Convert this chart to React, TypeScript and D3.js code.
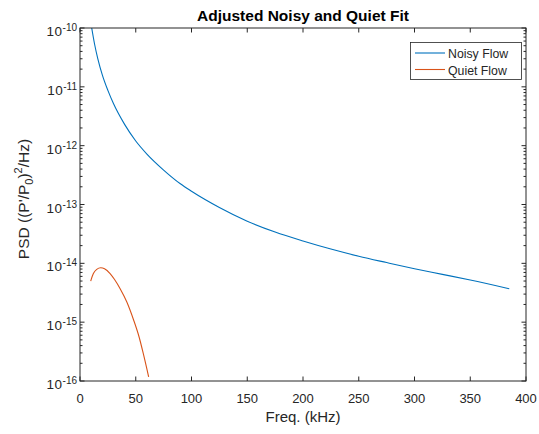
import React, { useEffect, useRef } from 'react';
import * as d3 from 'd3';

const width = 539;
const height = 434;
const margin = { top: 28, left: 80, right: 13, bottom: 53 };

// values (kHz, PSD)
const noisyFreq = [10.5, 13, 16, 20, 25, 30, 40, 50, 60, 75, 90, 100, 125, 150, 175, 200, 225, 250, 275, 300, 325, 350, 385];
const noisyPsd = [1.0e-10, 5.4e-11, 3.0e-11, 1.6e-11, 8.7e-12, 5.2e-12, 2.3e-12, 1.2e-12, 7.2e-13, 3.85e-13, 2.25e-13, 1.68e-13,
  8.9e-14, 5.2e-14, 3.4e-14, 2.4e-14, 1.75e-14, 1.32e-14, 1.03e-14, 8.1e-15, 6.5e-15, 5.2e-15, 3.7e-15];

const quietFreq = [9.6, 12, 15, 18.6, 22, 27, 31, 36, 42, 48, 53, 57, 61.6];
const quietPsd = [5.0e-15, 6.7e-15, 7.9e-15, 8.4e-15, 8.1e-15, 6.7e-15, 5.3e-15, 3.7e-15, 2.2e-15, 1.1e-15, 5.6e-16, 2.8e-16, 1.17e-16];

const xTicks = [0, 50, 100, 150, 200, 250, 300, 350, 400];
const yExponents = [-16, -15, -14, -13, -12, -11, -10];

const seriesNames = ['Noisy Flow', 'Quiet Flow'];
const seriesColors = ['#0072BD', '#D95319'];

const font = 'Liberation Sans, Arial, Helvetica, sans-serif';
const axisColor = '#262626';

export default function App() {
  const ref = useRef<SVGSVGElement>(null);

  useEffect(() => {
    const svg = d3.select(ref.current);
    svg.selectAll('*').remove();

    const x0 = margin.left;
    const x1 = width - margin.right;
    const y0 = height - margin.bottom;
    const y1 = margin.top;

    const x = d3.scaleLinear().domain([0, 400]).range([x0, x1]);
    const y = d3.scaleLog().domain([1e-16, 1e-10]).range([y0, y1]);

    svg.append('rect').attr('width', width).attr('height', height).attr('fill', 'white');

    const clip = svg.append('clipPath').attr('id', 'plot-clip');
    clip.append('rect').attr('x', x0).attr('y', y1).attr('width', x1 - x0).attr('height', y0 - y1);

    const line = d3.line<[number, number]>()
      .x(d => x(d[0]))
      .y(d => y(d[1]))
      .curve(d3.curveMonotoneX);

    const series = [
      noisyFreq.map((f, i) => [f, noisyPsd[i]] as [number, number]),
      quietFreq.map((f, i) => [f, quietPsd[i]] as [number, number]),
    ];

    svg.append('g')
      .attr('clip-path', 'url(#plot-clip)')
      .selectAll('path')
      .data(series)
      .join('path')
      .attr('d', d => line(d))
      .attr('fill', 'none')
      .attr('stroke', (_, i) => seriesColors[i])
      .attr('stroke-width', 1.1);

    // axes box
    const g = svg.append('g').attr('stroke', axisColor).attr('stroke-width', 1).attr('fill', 'none');
    g.append('rect').attr('x', x0).attr('y', y1).attr('width', x1 - x0).attr('height', y0 - y1);

    // x ticks, bottom and top, pointing in
    xTicks.forEach(t => {
      g.append('line').attr('x1', x(t)).attr('x2', x(t)).attr('y1', y0).attr('y2', y0 - 4.5);
      g.append('line').attr('x1', x(t)).attr('x2', x(t)).attr('y1', y1).attr('y2', y1 + 4.5);
    });

    // y major + minor ticks on both sides
    yExponents.forEach(e => {
      const v = Math.pow(10, e);
      g.append('line').attr('x1', x0).attr('x2', x0 + 4.5).attr('y1', y(v)).attr('y2', y(v));
      g.append('line').attr('x1', x1).attr('x2', x1 - 4.5).attr('y1', y(v)).attr('y2', y(v));
      if (e < -10) {
        for (let m = 2; m <= 9; m++) {
          const mv = m * v;
          g.append('line').attr('x1', x0).attr('x2', x0 + 2.5).attr('y1', y(mv)).attr('y2', y(mv));
          g.append('line').attr('x1', x1).attr('x2', x1 - 2.5).attr('y1', y(mv)).attr('y2', y(mv));
        }
      }
    });

    // x tick labels
    svg.append('g')
      .attr('font-family', font)
      .attr('font-size', 13)
      .attr('fill', axisColor)
      .attr('text-anchor', 'middle')
      .selectAll('text')
      .data(xTicks)
      .join('text')
      .attr('x', d => x(d))
      .attr('y', y0 + 22)
      .text(d => d);

    // y tick labels as 10^e
    const yl = svg.append('g')
      .attr('font-family', font)
      .attr('fill', axisColor)
      .attr('text-anchor', 'end');
    yExponents.forEach(e => {
      const yy = y(Math.pow(10, e));
      const t = yl.append('text').attr('x', x0 - 3).attr('y', yy + 8).attr('font-size', 13.5);
      t.append('tspan').attr('letter-spacing', 0.5).text('10');
      t.append('tspan').attr('dy', -5).attr('font-size', 10).text(String(e));
    });

    // title
    svg.append('text')
      .attr('x', (x0 + x1) / 2)
      .attr('y', 21)
      .attr('text-anchor', 'middle')
      .attr('font-family', font)
      .attr('font-size', 15.5)
      .attr('font-weight', 'bold')
      .attr('fill', 'black')
      .text('Adjusted Noisy and Quiet Fit');

    // x label
    svg.append('text')
      .attr('x', (x0 + x1) / 2)
      .attr('y', 422)
      .attr('text-anchor', 'middle')
      .attr('font-family', font)
      .attr('font-size', 15)
      .attr('fill', axisColor)
      .text('Freq. (kHz)');

    // y label
    const ylab = svg.append('text')
      .attr('transform', `translate(29,199) rotate(-90)`)
      .attr('text-anchor', 'middle')
      .attr('font-family', font)
      .attr('font-size', 15.5)
      .attr('fill', axisColor);
    ylab.append('tspan').text("PSD ((P'/P");
    ylab.append('tspan').attr('dy', 4).attr('font-size', 11).text('0');
    ylab.append('tspan').attr('dy', -4).text(')');
    ylab.append('tspan').attr('dy', -7).attr('font-size', 11).text('2');
    ylab.append('tspan').attr('dy', 7).text('/Hz)');

    // legend
    const lg = svg.append('g');
    lg.append('rect')
      .attr('x', 410.5).attr('y', 42.5).attr('width', 111).attr('height', 37)
      .attr('fill', 'white').attr('stroke', axisColor).attr('stroke-width', 0.8);
    seriesNames.forEach((name, i) => {
      const ly = 53 + i * 16.5;
      lg.append('line')
        .attr('x1', 415).attr('x2', 445).attr('y1', ly).attr('y2', ly)
        .attr('stroke', seriesColors[i]).attr('stroke-width', 1.1);
      lg.append('text')
        .attr('x', 448).attr('y', ly + 5)
        .attr('font-family', font).attr('font-size', 12.3).attr('fill', axisColor)
        .text(name);
    });
  }, []);

  return (
    <svg ref={ref} width={width} height={height} style={{ position: 'absolute', left: 0, top: 0 }} />
  );
}
